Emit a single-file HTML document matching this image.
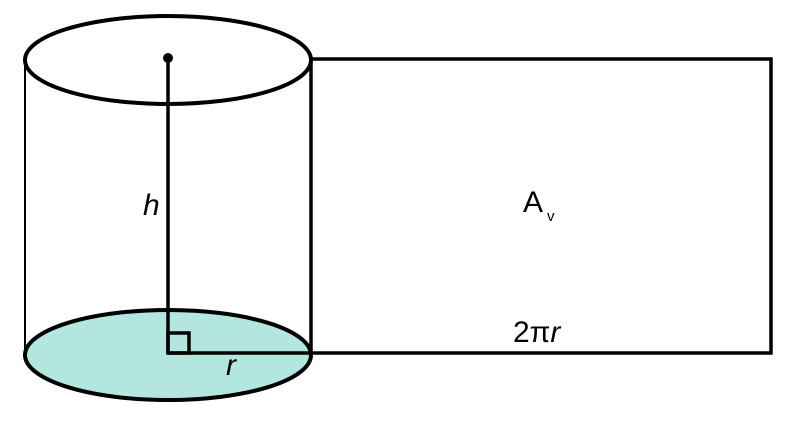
<!DOCTYPE html>
<html><head><style>body{margin:0;background:#fff}</style></head><body>
<svg width="800" height="429" xmlns="http://www.w3.org/2000/svg" font-family="Liberation Sans, sans-serif">
<rect width="800" height="429" fill="#fff"/>
<ellipse cx="168" cy="355" rx="143" ry="45" fill="#b3e6df" stroke="#000" stroke-width="4"/>
<ellipse cx="168" cy="60" rx="143" ry="44" fill="none" stroke="#000" stroke-width="4"/>
<line x1="25" y1="60" x2="25" y2="355" stroke="#000" stroke-width="2"/>
<line x1="311" y1="60" x2="311" y2="355" stroke="#000" stroke-width="2"/>
<rect x="311" y="59" width="460" height="294" fill="none" stroke="#000" stroke-width="3.5"/>
<line x1="168" y1="58" x2="168" y2="353" stroke="#000" stroke-width="3.5"/>
<circle cx="168" cy="58" r="5" fill="#000"/>
<line x1="168" y1="353" x2="311" y2="353" stroke="#000" stroke-width="3.5"/>
<rect x="168" y="333" width="21" height="20" fill="none" stroke="#000" stroke-width="3.5"/>
<text x="143" y="215" font-size="30" font-style="italic">h</text>
<text x="226" y="375" font-size="30" font-style="italic">r</text>
<text x="523" y="212" font-size="30">A</text>
<text x="547" y="221" font-size="15">v</text>
<text x="513" y="342" font-size="30">2π<tspan font-style="italic">r</tspan></text>
</svg>
</body></html>
